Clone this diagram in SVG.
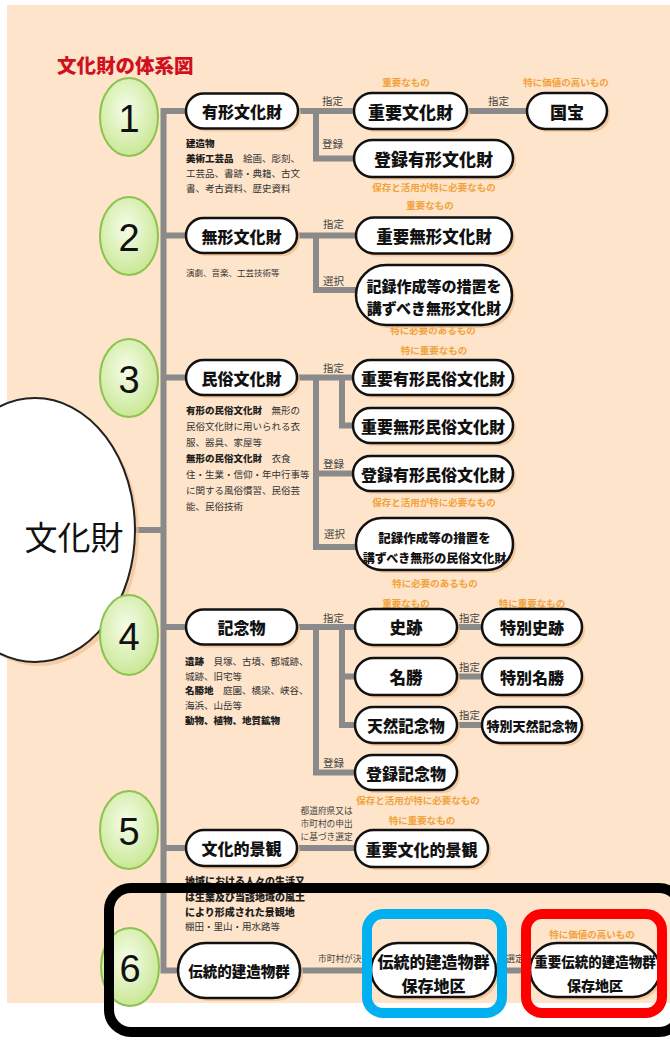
<svg xmlns="http://www.w3.org/2000/svg" width="670" height="1041" viewBox="0 0 670 1041">
<defs>
<radialGradient id="gg" cx="0.45" cy="0.4" r="0.65">
<stop offset="0" stop-color="#f6fde9"/>
<stop offset="1" stop-color="#c6e690"/>
</radialGradient>
<style>
.ln{fill:none;stroke:#8a8a8a;stroke-width:6}
.sh{fill:#f0bd8c;opacity:0.75}
.pl{fill:#fff;stroke:#111;stroke-width:2.5}
.t{font-family:"Noto Sans CJK JP",sans-serif;font-weight:900;fill:#111;text-anchor:middle;dominant-baseline:central}
.lb{font-family:"Noto Sans CJK JP",sans-serif;font-size:10.5px;fill:#444;dominant-baseline:central}
.or{font-family:"Noto Sans CJK JP",sans-serif;font-size:9.5px;font-weight:700;fill:#f2a23a;text-anchor:middle;dominant-baseline:central}
.ds{font-family:"Noto Sans CJK JP",sans-serif;font-size:9.5px;fill:#333;dominant-baseline:central}
.b{font-weight:900;fill:#1e1e1e}
.gc{fill:url(#gg);stroke:#8cc34e;stroke-width:2}
.num{font-family:"Liberation Sans",sans-serif;font-size:38px;fill:#111;text-anchor:middle;dominant-baseline:central}
.box{fill:none;stroke-width:10}
</style>
</defs>

<rect x="0" y="0" width="670" height="1041" fill="#fff"/>
<rect x="7" y="5" width="663" height="998" fill="#fde4ca"/>

<text x="57" y="64" font-family="Noto Sans CJK JP, sans-serif" font-size="19.5" font-weight="900" fill="#d0101e" dominant-baseline="central">文化財の体系図</text>

<g id="connectors">
<path class="ln" d="M190 111 H163.5 V970.5 H200"/>
<path class="ln" d="M163.5 235.5 H190 M163.5 377.5 H190 M163.5 627 H190 M163.5 848 H190 M130 530 H163.5"/>
<path class="ln" d="M296 111 H357 M316 111 V158.5 H357 M465 111 H530"/>
<path class="ln" d="M295 235.5 H358 M316 235.5 V290 H358"/>
<path class="ln" d="M295 377.5 H356 M342 377.5 V425.5 H356 M316 377.5 V547 H358 M316 473.5 H356"/>
<path class="ln" d="M295 627 H358 M342 627 V725 H358 M342 676.5 H358 M316 627 V772.5 H358 M455 627 H485 M455 676.5 H485 M455 725 H485"/>
<path class="ln" d="M295 848 H358"/>
<path class="ln" d="M298 970.5 H374 M494 970.5 H533"/>
</g>

<g id="root">
<ellipse cx="39" cy="534" rx="100" ry="132" fill="#f0bd8c" opacity="0.6"/>
<ellipse cx="35" cy="530" rx="100" ry="132" fill="#fff" stroke="#222" stroke-width="2"/>
<text x="74" y="536" font-family="Noto Sans CJK JP, sans-serif" font-size="33" fill="#111" text-anchor="middle" dominant-baseline="central">文化財</text>
</g>

<g id="markers">
<ellipse class="gc" cx="129" cy="117" rx="29" ry="39"/><text class="num" x="129" y="119">1</text>
<ellipse class="gc" cx="129" cy="236" rx="29" ry="39"/><text class="num" x="129" y="238">2</text>
<ellipse class="gc" cx="129" cy="378" rx="29" ry="39"/><text class="num" x="129" y="380">3</text>
<ellipse class="gc" cx="129" cy="635" rx="29" ry="40"/><text class="num" x="129" y="637">4</text>
<ellipse class="gc" cx="129" cy="830" rx="29" ry="39"/><text class="num" x="129" y="832">5</text>
<ellipse class="gc" cx="130" cy="967" rx="29" ry="39"/><text class="num" x="130" y="969">6</text>
</g>

<g id="n1">
<rect class="sh" x="189" y="96.5" width="112" height="35" rx="17.5"/>
<rect class="pl" x="186" y="93.5" width="112" height="35" rx="17.5"/>
<text class="t" x="242" y="111" font-size="16">有形文化財</text>
<text class="ds" y="143"><tspan class="b" x="186">建造物</tspan></text>
<text class="ds" y="158"><tspan class="b" x="186">美術工芸品</tspan><tspan>　絵画、彫刻、</tspan></text>
<text class="ds" x="186" y="173">工芸品、書跡・典籍、古文</text>
<text class="ds" x="186" y="188">書、考古資料、歴史資料</text>
</g>
<g id="n2">
<rect class="sh" x="189" y="221" width="111" height="35" rx="17.5"/>
<rect class="pl" x="186" y="218" width="111" height="35" rx="17.5"/>
<text class="t" x="241.5" y="235.5" font-size="16">無形文化財</text>
<text class="ds" x="186" y="272" style="font-size:8.5px">演劇、音楽、工芸技術等</text>
</g>
<g id="n3">
<rect class="sh" x="189" y="363" width="111" height="35" rx="17.5"/>
<rect class="pl" x="186" y="360" width="111" height="35" rx="17.5"/>
<text class="t" x="241.5" y="377.5" font-size="16">民俗文化財</text>
<text class="ds" y="410"><tspan class="b" x="186">有形の民俗文化財</tspan><tspan>　無形の</tspan></text>
<text class="ds" x="186" y="426">民俗文化財に用いられる衣</text>
<text class="ds" x="186" y="442">服、器具、家屋等</text>
<text class="ds" y="458"><tspan class="b" x="186">無形の民俗文化財</tspan><tspan>　衣食</tspan></text>
<text class="ds" x="186" y="474">住・生業・信仰・年中行事等</text>
<text class="ds" x="186" y="490">に関する風俗慣習、民俗芸</text>
<text class="ds" x="186" y="506">能、民俗技術</text>
</g>
<g id="n4">
<rect class="sh" x="189" y="612.5" width="111" height="35" rx="17.5"/>
<rect class="pl" x="186" y="609.5" width="111" height="35" rx="17.5"/>
<text class="t" x="241.5" y="627" font-size="16">記念物</text>
<text class="ds" y="661"><tspan class="b" x="185">遺跡</tspan><tspan>　貝塚、古墳、都城跡、</tspan></text>
<text class="ds" x="185" y="676">城跡、旧宅等</text>
<text class="ds" y="690"><tspan class="b" x="185">名勝地</tspan><tspan>　庭園、橋梁、峡谷、</tspan></text>
<text class="ds" x="185" y="705">海浜、山岳等</text>
<text class="ds" y="720"><tspan class="b" x="185">動物、植物、地質鉱物</tspan></text>
</g>
<g id="n5">
<rect class="sh" x="189" y="833" width="111" height="36" rx="18"/>
<rect class="pl" x="186" y="830" width="111" height="36" rx="18"/>
<text class="t" x="241.5" y="848" font-size="16">文化的景観</text>
<text class="ds" y="880" style="font-size:10px"><tspan class="b" x="185">地域における人々の生活又</tspan></text>
<text class="ds" y="896" style="font-size:10px"><tspan class="b" x="185">は生業及び当該地域の風土</tspan></text>
<text class="ds" y="911" style="font-size:10px"><tspan class="b" x="185">により形成された景観地</tspan></text>
<text class="ds" x="185" y="926">棚田・里山・用水路等</text>
</g>
<g id="n6">
<rect class="sh" x="181" y="946" width="122" height="55" rx="27.5"/>
<rect class="pl" x="178" y="943" width="122" height="55" rx="27.5"/>
<text class="t" x="239" y="970.5" font-size="14.5">伝統的建造物群</text>
</g>

<g id="labels">
<text class="lb" x="322" y="100">指定</text>
<text class="lb" x="322" y="143">登録</text>
<text class="lb" x="488" y="100">指定</text>
<text class="lb" x="323" y="223">指定</text>
<text class="lb" x="323" y="280">選択</text>
<text class="lb" x="323" y="367">指定</text>
<text class="lb" x="323" y="463">登録</text>
<text class="lb" x="324" y="533">選択</text>
<text class="lb" x="323" y="617">指定</text>
<text class="lb" x="459" y="617">指定</text>
<text class="lb" x="459" y="666">指定</text>
<text class="lb" x="459" y="714">指定</text>
<text class="lb" x="323" y="762">登録</text>
<text class="lb" x="300.5" y="810" style="font-size:8.7px">都道府県又は</text>
<text class="lb" x="300.5" y="823" style="font-size:8.7px">市町村の申出</text>
<text class="lb" x="300.5" y="836" style="font-size:8.7px">に基づき選定</text>
<text class="lb" x="318" y="958" style="font-size:8.7px">市町村が決定</text>
<text class="lb" x="506" y="958" style="font-size:9px">選定</text>
<text class="or" x="406" y="82">重要なもの</text>
<text class="or" x="566" y="82">特に価値の高いもの</text>
<text class="or" x="434" y="187">保存と活用が特に必要なもの</text>
<text class="or" x="430" y="205">重要なもの</text>
<text class="or" x="433" y="330">特に必要のあるもの</text>
<text class="or" x="434" y="350">特に重要なもの</text>
<text class="or" x="434" y="502">保存と活用が特に必要なもの</text>
<text class="or" x="435" y="583">特に必要のあるもの</text>
<text class="or" x="406" y="603">重要なもの</text>
<text class="or" x="532" y="603">特に重要なもの</text>
<text class="or" x="418" y="800">保存と活用が特に必要なもの</text>
<text class="or" x="422" y="820">特に重要なもの</text>
<text class="or" x="592" y="934">特に価値の高いもの</text>
</g>

<g id="n-juyo-bunkazai"><rect class="sh" x="357" y="96" width="113" height="36" rx="18"/><rect class="pl" x="354" y="93" width="113" height="36" rx="18"/><text class="t" x="410.5" y="111" font-size="17">重要文化財</text></g>
<g id="n-kokuho"><rect class="sh" x="530" y="96" width="80" height="36" rx="18"/><rect class="pl" x="527" y="93" width="80" height="36" rx="18"/><text class="t" x="567" y="111" font-size="17">国宝</text></g>
<g id="n-toroku-yukei"><rect class="sh" x="357" y="143" width="159" height="37" rx="18.5"/><rect class="pl" x="354" y="140" width="159" height="37" rx="18.5"/><text class="t" x="433.5" y="158.5" font-size="17">登録有形文化財</text></g>
<g id="n-juyo-mukei"><rect class="sh" x="359" y="220.5" width="156" height="36" rx="18"/><rect class="pl" x="356" y="217.5" width="156" height="36" rx="18"/><text class="t" x="434" y="235.5" font-size="16.5">重要無形文化財</text></g>
<g id="n-kiroku-mukei"><rect class="sh" x="359" y="268" width="156" height="60" rx="30"/><rect class="pl" x="356" y="265" width="156" height="60" rx="30"/><text class="t" x="434" y="285" font-size="15">記録作成等の措置を</text><text class="t" x="434" y="307" font-size="15">講ずべき無形文化財</text></g>
<g id="n-juyo-yukei-minzoku"><rect class="sh" x="356" y="363" width="160" height="35" rx="17.5"/><rect class="pl" x="353" y="360" width="160" height="35" rx="17.5"/><text class="t" x="433" y="377.5" font-size="16">重要有形民俗文化財</text></g>
<g id="n-juyo-mukei-minzoku"><rect class="sh" x="356" y="411" width="160" height="35" rx="17.5"/><rect class="pl" x="353" y="408" width="160" height="35" rx="17.5"/><text class="t" x="433" y="425.5" font-size="16">重要無形民俗文化財</text></g>
<g id="n-toroku-minzoku"><rect class="sh" x="356" y="459" width="160" height="35" rx="17.5"/><rect class="pl" x="353" y="456" width="160" height="35" rx="17.5"/><text class="t" x="433" y="473.5" font-size="16">登録有形民俗文化財</text></g>
<g id="n-kiroku-minzoku"><rect class="sh" x="359" y="521" width="157" height="52" rx="26"/><rect class="pl" x="356" y="518" width="157" height="52" rx="26"/><text class="t" x="434.5" y="537" font-size="12.5">記録作成等の措置を</text><text class="t" x="434.5" y="557" font-size="12">講ずべき無形の民俗文化財</text></g>
<g id="n-shiseki"><rect class="sh" x="358" y="612" width="102" height="36" rx="18"/><rect class="pl" x="355" y="609" width="102" height="36" rx="18"/><text class="t" x="406" y="627" font-size="16.5">史跡</text></g>
<g id="n-tokubetsu-shiseki"><rect class="sh" x="485" y="612" width="100" height="36" rx="18"/><rect class="pl" x="482" y="609" width="100" height="36" rx="18"/><text class="t" x="532" y="627" font-size="16">特別史跡</text></g>
<g id="n-meisho"><rect class="sh" x="358" y="661" width="102" height="37" rx="18.5"/><rect class="pl" x="355" y="658" width="102" height="37" rx="18.5"/><text class="t" x="406" y="676.5" font-size="16.5">名勝</text></g>
<g id="n-tokubetsu-meisho"><rect class="sh" x="485" y="661" width="100" height="37" rx="18.5"/><rect class="pl" x="482" y="658" width="100" height="37" rx="18.5"/><text class="t" x="532" y="676.5" font-size="16">特別名勝</text></g>
<g id="n-tennen"><rect class="sh" x="358" y="710" width="102" height="36" rx="18"/><rect class="pl" x="355" y="707" width="102" height="36" rx="18"/><text class="t" x="406" y="725" font-size="15.5">天然記念物</text></g>
<g id="n-tokubetsu-tennen"><rect class="sh" x="485" y="710" width="100" height="36" rx="18"/><rect class="pl" x="482" y="707" width="100" height="36" rx="18"/><text class="t" x="532" y="725" font-size="13">特別天然記念物</text></g>
<g id="n-toroku-kinenbutsu"><rect class="sh" x="358" y="758" width="102" height="35" rx="17.5"/><rect class="pl" x="355" y="755" width="102" height="35" rx="17.5"/><text class="t" x="406" y="772.5" font-size="16">登録記念物</text></g>
<g id="n-juyo-keikan"><rect class="sh" x="358" y="833" width="133" height="37" rx="18.5"/><rect class="pl" x="355" y="830" width="133" height="37" rx="18.5"/><text class="t" x="421.5" y="848.5" font-size="16">重要文化的景観</text></g>
<g id="n-dentoteki-hozon"><rect class="sh" x="374" y="946" width="125" height="54" rx="27"/><rect class="pl" x="371" y="943" width="125" height="54" rx="27"/><text class="t" x="433.5" y="961" font-size="16">伝統的建造物群</text><text class="t" x="433.5" y="985" font-size="16">保存地区</text></g>
<g id="n-juyo-dentoteki"><rect class="sh" x="533" y="946" width="130" height="54" rx="27"/><rect class="pl" x="530" y="943" width="130" height="54" rx="27"/><text class="t" x="595" y="961" font-size="13.5">重要伝統的建造物群</text><text class="t" x="595" y="985" font-size="14">保存地区</text></g>

<g id="highlights">
<rect class="box" x="109" y="888" width="572" height="144" rx="22" stroke="#000"/>
<rect class="box" x="367" y="914" width="135" height="99" rx="16" stroke="#00b0f0"/>
<rect class="box" x="526" y="914" width="136" height="99" rx="16" stroke="#ff0000"/>
</g>
</svg>
